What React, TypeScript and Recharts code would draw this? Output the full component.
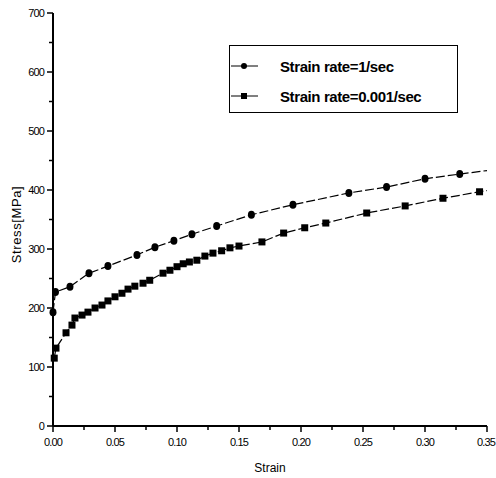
import { LineChart, Line, XAxis, YAxis, Legend, Label } from 'recharts';

// strain rate 1/sec (circles)
const fastStrain = [0, 0.002, 0.0137, 0.029, 0.0443, 0.0677, 0.0822, 0.0975, 0.112, 0.132, 0.16, 0.1935, 0.2386, 0.269, 0.3, 0.328, 0.35];
const fastStress = [193, 227, 236, 259, 271, 290, 303, 314, 325, 339, 358, 375, 395, 405, 419, 427, 433];

// strain rate 0.001/sec (squares)
const slowStrain = [0.001, 0.0024, 0.0105, 0.0153, 0.0177, 0.0234, 0.0282, 0.0339, 0.0395, 0.0443, 0.05, 0.0556, 0.0605, 0.066, 0.0726, 0.078, 0.0887, 0.0943, 0.1, 0.105, 0.11, 0.116, 0.1225, 0.129, 0.136, 0.1427, 0.15, 0.1685, 0.186, 0.203, 0.22, 0.253, 0.284, 0.3145, 0.344, 0.35];
const slowStress = [115, 132, 158, 171, 183, 188, 193, 200, 205, 212, 219, 225, 232, 237, 242, 247, 259, 264, 270, 275, 278, 281, 288, 293, 297, 302, 305, 312, 327, 336, 344, 361, 373, 386, 397, 399];

const xTicks = [0, 0.025, 0.05, 0.075, 0.1, 0.125, 0.15, 0.175, 0.2, 0.225, 0.25, 0.275, 0.3, 0.325, 0.35];
const yTicks = [0, 50, 100, 150, 200, 250, 300, 350, 400, 450, 500, 550, 600, 650, 700];

const fastData = fastStrain.map((x, i) => ({ x, y: fastStress[i] }));
const slowData = slowStrain.map((x, i) => ({ x, y: slowStress[i] }));

const tickFont = "'Liberation Sans', Arial, sans-serif";

const XTick = (props: any) => {
  const { x, y, payload, index } = props;
  const major = Math.round(payload.value * 1000) % 50 === 0;
  const last = index === xTicks.length - 1;
  return (
    <g>
      <line x1={x} x2={x} y1={y - 8} y2={y - 8 + (major ? 6 : 4)} stroke="#000" strokeWidth={1.5} />
      {major && (
        <text x={x} dx={last ? -1 : 0} y={y + 12} textAnchor="middle" fontSize={11} letterSpacing={-0.9} fontFamily={tickFont} fill="#000">
          {payload.value.toFixed(2)}
        </text>
      )}
    </g>
  );
};

const YTick = (props: any) => {
  const { x, y, payload } = props;
  const major = payload.value % 100 === 0;
  return (
    <g>
      <line x1={x + 8} x2={x + 8 - (major ? 6 : 4)} y1={y} y2={y} stroke="#000" strokeWidth={1.5} />
      {major && (
        <text x={x - 1} y={y + 4} textAnchor="end" fontSize={11} letterSpacing={-0.9} fontFamily={tickFont} fill="#000">
          {payload.value}
        </text>
      )}
    </g>
  );
};

const SquareDot = (props: any) => {
  const { cx, cy, index } = props;
  if (index === slowData.length - 1) return <g key={index} />;
  return <rect key={index} x={cx - 3.5} y={cy - 3.5} width={7} height={7} fill="#000" />;
};

const CircleDot = (props: any) => {
  const { cx, cy, index } = props;
  if (index === fastData.length - 1) return <g key={index} />;
  return <ellipse key={index} cx={cx} cy={cy} rx={3.5} ry={4} fill="#000" />;
};

const YLabel = (props: any) => {
  const { viewBox } = props;
  const cy = viewBox.y + viewBox.height / 2 + 5;
  return (
    <text x={10} y={cy} transform={`rotate(-90, 10, ${cy})`} textAnchor="middle" dominantBaseline="middle" fontSize={13} letterSpacing={0.6} fontFamily={tickFont} fill="#000">
      Stress[MPa]
    </text>
  );
};

const LegendBox = () => (
  <div style={{ border: '1px solid #000', width: 229, height: 68, boxSizing: 'border-box', background: '#fff', position: 'relative' }}>
    {[
      { label: 'Strain rate=1/sec', square: false },
      { label: 'Strain rate=0.001/sec', square: true },
    ].map((e, i) => (
      <div key={i} style={{ position: 'absolute', left: 0, top: 10 + i * 30, height: 20, display: 'flex', alignItems: 'center' }}>
        <svg width={48} height={20}>
          <line x1={1} x2={28} y1={10} y2={10} stroke="#000" strokeWidth={1} />
          {e.square ? <rect x={11} y={7} width={6} height={6} fill="#000" /> : <circle cx={14} cy={10} r={3} fill="#000" />}
        </svg>
        <span style={{ fontFamily: tickFont, fontWeight: 'bold', fontSize: 15, letterSpacing: -0.4, color: '#000', marginLeft: 2 }}>
          {e.label}
        </span>
      </div>
    ))}
  </div>
);

export default function App() {
  return (
    <div style={{ position: 'absolute', left: 8, top: 8 }}>
      <LineChart width={488} height={470} margin={{ top: 5, right: 9, left: 0, bottom: 0 }} style={{ background: '#fff' }}>
        <XAxis
          type="number"
          dataKey="x"
          domain={[0, 0.35]}
          ticks={xTicks}
          tick={<XTick />}
          tickLine={false}
          axisLine={{ stroke: '#000', strokeWidth: 2 }}
          height={52}
          interval={0}
          allowDuplicatedCategory={false}
        >
          <Label value="Strain" position="insideBottom" offset={6} style={{ fontSize: 12, fontFamily: tickFont, fill: '#000' }} />
        </XAxis>
        <YAxis
          type="number"
          dataKey="y"
          domain={[0, 700]}
          ticks={yTicks}
          tick={<YTick />}
          tickLine={false}
          axisLine={{ stroke: '#000', strokeWidth: 2 }}
          width={45}
          interval={0}
        >
          <Label content={<YLabel />} />
        </YAxis>
        <Legend
          layout="horizontal"
          verticalAlign="middle"
          align="center"
          content={<LegendBox />}
          wrapperStyle={{ top: 37, left: 221, width: 229 }}
        />
        <Line
          data={fastData}
          dataKey="y"
          name="Strain rate=1/sec"
          stroke="#000"
          strokeWidth={1.2}
          strokeDasharray="9 3"
          dot={<CircleDot />}
          isAnimationActive={false}
        />
        <Line
          data={slowData}
          dataKey="y"
          name="Strain rate=0.001/sec"
          stroke="#000"
          strokeWidth={1.2}
          strokeDasharray="9 3"
          dot={<SquareDot />}
          isAnimationActive={false}
        />
      </LineChart>
    </div>
  );
}
